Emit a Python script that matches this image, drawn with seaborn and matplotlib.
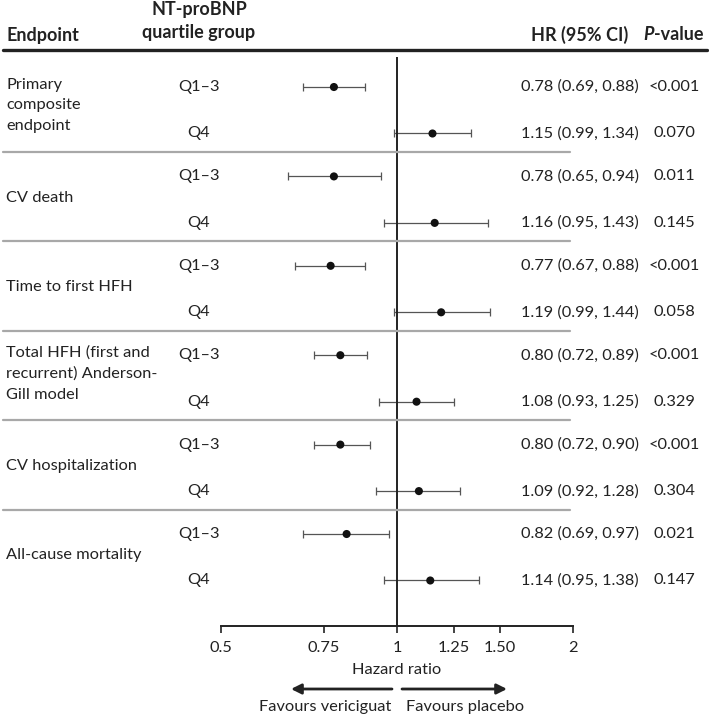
import matplotlib
matplotlib.use("Agg")
import matplotlib.pyplot as plt
import matplotlib.transforms as mtransforms
from matplotlib.lines import Line2D
from matplotlib.ticker import NullLocator
import pandas as pd
import seaborn as sns

# values
endpoints = ["Primary\ncomposite\nendpoint", "CV death", "Time to first HFH",
             "Total HFH (first and\nrecurrent) Anderson-\nGill model",
             "CV hospitalization", "All-cause mortality"]
groups = ["Q1–3", "Q4"]
hr_q13 = [0.78, 0.78, 0.77, 0.80, 0.80, 0.82]
lo_q13 = [0.69, 0.65, 0.67, 0.72, 0.72, 0.69]
hi_q13 = [0.88, 0.94, 0.88, 0.89, 0.90, 0.97]
p_q13 = ["<0.001", "0.011", "<0.001", "<0.001", "<0.001", "0.021"]
hr_q4 = [1.15, 1.16, 1.19, 1.08, 1.09, 1.14]
lo_q4 = [0.99, 0.95, 0.99, 0.93, 0.92, 0.95]
hi_q4 = [1.34, 1.43, 1.44, 1.25, 1.28, 1.38]
p_q4 = ["0.070", "0.145", "0.058", "0.329", "0.304", "0.147"]
xticks = [0.5, 0.75, 1, 1.25, 1.5, 2]
xticklabels = ["0.5", "0.75", "1", "1.25", "1.50", "2"]

W, H = 709, 718
SUB = 0.52  # offset of the Q4 row inside a group


def fx(px):
    return px / W


def fy(py):
    return 1 - py / H


rows = []
for i, ep in enumerate(endpoints):
    for j, (hr, lo, hi, p) in enumerate([(hr_q13[i], lo_q13[i], hi_q13[i], p_q13[i]),
                                         (hr_q4[i], lo_q4[i], hi_q4[i], p_q4[i])]):
        rows.append(dict(endpoint=ep, group=groups[j], y=i + SUB * j,
                         hr=hr, lo=lo, hi=hi, p=p))
df = pd.DataFrame(rows)

sns.set_theme(style="white")
plt.rcParams['font.family'] = ['Lato', 'DejaVu Sans']
txt = '#222222'
fs = 11.8
hfs = 13

fig = plt.figure(figsize=(W / 100, H / 100), dpi=100)
ax = fig.add_axes([fx(221), fy(626), fx(573) - fx(221), fy(50) - fy(626)])
ax.set_xscale('log')

ax.errorbar(df.hr, df.y, xerr=[df.hr - df.lo, df.hi - df.hr], fmt='none',
            ecolor='#555555', elinewidth=0.9, capsize=3, capthick=0.9)
sns.scatterplot(data=df, x='hr', y='y', color='#111111', s=34,
                edgecolor='none', ax=ax, zorder=3, legend=False)

ax.set_xlim(0.5, 2)
ax.set_ylim(6.029, -0.414)
ax.vlines(1, -0.336, 6.029, color=txt, lw=1.4)

for s in ['top', 'right', 'left']:
    ax.spines[s].set_visible(False)
ax.spines['bottom'].set_linewidth(1.4)
ax.spines['bottom'].set_color(txt)
ax.set_xticks(xticks)
ax.set_xticklabels(xticklabels)
ax.xaxis.set_minor_locator(NullLocator())
ax.tick_params(axis='x', direction='out', length=5, width=1.2, color=txt,
               labelcolor=txt, labelsize=fs, pad=6, bottom=True)
ax.set_yticks([])
ax.set_xlabel('')
ax.set_ylabel('')

trans = mtransforms.blended_transform_factory(fig.transFigure, ax.transData)

# table text per row
for _, r in df.iterrows():
    ax.text(fx(199), r.y, r.group, transform=trans, ha='center', va='center',
            fontsize=fs, color=txt)
    ax.text(fx(580), r.y, f"{r.hr:.2f} ({r.lo:.2f}, {r.hi:.2f})", transform=trans,
            ha='center', va='center', fontsize=fs, color=txt)
    ax.text(fx(674), r.y, r.p, transform=trans, ha='center', va='center',
            fontsize=fs, color=txt)

for i, ep in enumerate(endpoints):
    shift = 0.055 if '\n' in ep else 0.02
    ax.text(fx(6), i + SUB / 2 - shift, ep, transform=trans, ha='left', va='center',
            fontsize=fs, color=txt, linespacing=1.6)
    if i < len(endpoints) - 1:
        ax.plot([fx(3), fx(570)], [i + SUB + 0.207] * 2, transform=trans,
                clip_on=False, color='#a8a8a8', lw=1.6)

# header
fig.add_artist(Line2D([fx(3), fx(707)], [fy(50)] * 2, lw=2.4, color=txt))
fig.text(fx(7), fy(35), "Endpoint", fontsize=hfs, fontweight='bold', color=txt,
         ha='left', va='center')
fig.text(fx(199), fy(21), "NT-proBNP\nquartile group", fontsize=hfs,
         fontweight='bold', color=txt, ha='center', va='center',
         multialignment='center', linespacing=1.45)
fig.text(fx(580), fy(35), "HR (95% CI)", fontsize=hfs, fontweight='bold',
         color=txt, ha='center', va='center')
fig.text(fx(654), fy(35), "P", fontsize=hfs, fontweight='bold', style='italic',
         color=txt, ha='right', va='center')
fig.text(fx(654), fy(35), "-value", fontsize=hfs, fontweight='bold', color=txt,
         ha='left', va='center')

# axis label and direction arrows
fig.text(fx(397), fy(670), "Hazard ratio", fontsize=fs, color=txt,
         ha='center', va='center')
arrow = dict(arrowstyle='-|>', color=txt, lw=2, mutation_scale=15,
             shrinkA=0, shrinkB=0)
ax.annotate('', xy=(fx(291), fy(689)), xytext=(fx(392), fy(689)),
            xycoords='figure fraction', textcoords='figure fraction',
            arrowprops=arrow, annotation_clip=False)
ax.annotate('', xy=(fx(507), fy(689)), xytext=(fx(402), fy(689)),
            xycoords='figure fraction', textcoords='figure fraction',
            arrowprops=arrow, annotation_clip=False)
fig.text(fx(391), fy(707), "Favours vericiguat", fontsize=fs, color=txt,
         ha='right', va='center')
fig.text(fx(406), fy(707), "Favours placebo", fontsize=fs, color=txt,
         ha='left', va='center')

fig.savefig('out.png', dpi=100, facecolor='white')
